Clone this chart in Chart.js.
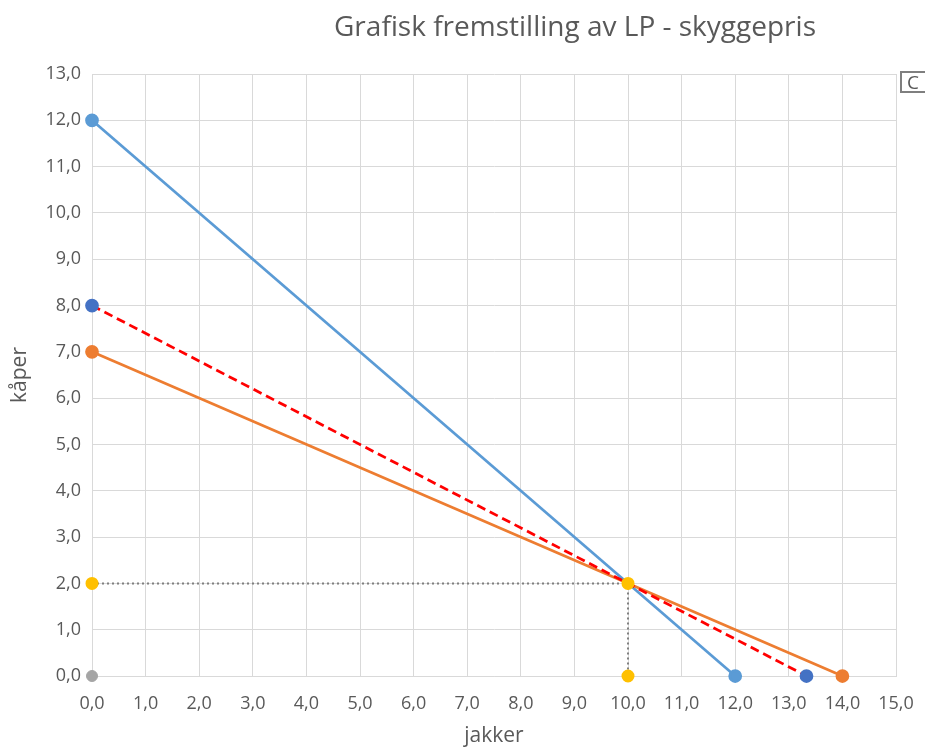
<!DOCTYPE html>
<html>
<head>
<meta charset="utf-8">
<script src="https://cdn.jsdelivr.net/npm/chart.js@4.4.1/dist/chart.umd.min.js"></script>
<style>
  html, body { margin: 0; padding: 0; background: #fff; overflow: hidden; }
  #wrap { position: relative; width: 925px; height: 749px; }
  #title {
    position: absolute; left: 575px; top: 6px; transform: translateX(-50%);
    font-family: "Open Sans", "Noto Sans", sans-serif; font-size: 28px; color: #595959;
    white-space: nowrap;
  }
  #legendBox {
    position: absolute; left: 900px; top: 71px; width: 80px; height: 18px;
    border: 2px solid #7f7f7f; background: #fff;
    font-family: "Open Sans", sans-serif; font-size: 19px; color: #595959;
    line-height: 18px; padding-left: 5px;
  }
</style>
</head>
<body>
<div id="wrap">
  <canvas id="c" width="925" height="749"></canvas>
  <div id="title">Grafisk fremstilling av LP - skyggepris</div>
  <div id="legendBox">C</div>
</div>
<script>
// Axis tick labels (Norwegian decimal comma)
const xTickLabels = ['0,0','1,0','2,0','3,0','4,0','5,0','6,0','7,0','8,0','9,0','10,0','11,0','12,0','13,0','14,0','15,0'];
const yTickLabels = ['0,0','1,0','2,0','3,0','4,0','5,0','6,0','7,0','8,0','9,0','10,0','11,0','12,0','13,0'];

// Constraint 1: x + y <= 12
const constraint1X = [0, 12];
const constraint1Y = [12, 0];
// Constraint 2: x + 2y <= 14
const constraint2X = [0, 14];
const constraint2Y = [7, 0];
// Objective / iso-profit line through the optimum
const objectiveX = [0, 13.33];
const objectiveY = [8, 0];
// Optimal point with guide lines to the axes
const optimumX = [0, 10, 10];
const optimumY = [2, 2, 0];
// Origin
const originX = [0];
const originY = [0];

const pts = (xs, ys) => xs.map((x, i) => ({ x: x, y: ys[i] }));

const tickFont = { family: '"Open Sans", "Noto Sans", sans-serif', size: 18 };
const titleFont = { family: '"Open Sans", "Noto Sans", sans-serif', size: 21 };

new Chart(document.getElementById('c'), {
  type: 'scatter',
  data: {
    datasets: [
      {
        label: 'Optimum',
        data: pts(optimumX, optimumY),
        showLine: true,
        borderColor: '#7f7f7f',
        borderWidth: 2,
        borderDash: [2, 3],
        pointBackgroundColor: '#FFC000',
        pointBorderColor: '#FFC000',
        pointRadius: 5.5,
        clip: false
      },
      {
        label: 'Origo',
        data: pts(originX, originY),
        pointBackgroundColor: '#A5A5A5',
        pointBorderColor: '#A5A5A5',
        pointRadius: 5.5,
        clip: false
      },
      {
        label: 'Skyggepris',
        data: pts(objectiveX, objectiveY),
        showLine: true,
        borderColor: '#FF0000',
        borderWidth: 2.75,
        borderDash: [9, 5],
        pointBackgroundColor: '#4472C4',
        pointBorderColor: '#4472C4',
        pointRadius: 5.5,
        clip: false
      },
      {
        label: 'Restriksjon 2',
        data: pts(constraint2X, constraint2Y),
        showLine: true,
        borderColor: '#ED7D31',
        borderWidth: 2.75,
        pointBackgroundColor: '#ED7D31',
        pointBorderColor: '#ED7D31',
        pointRadius: 5.5,
        clip: false
      },
      {
        label: 'Restriksjon 1',
        data: pts(constraint1X, constraint1Y),
        showLine: true,
        borderColor: '#5B9BD5',
        borderWidth: 2.75,
        pointBackgroundColor: '#5B9BD5',
        pointBorderColor: '#5B9BD5',
        pointRadius: 5.5,
        clip: false
      }
    ]
  },
  options: {
    responsive: false,
    animation: false,
    layout: { padding: { top: 74, right: 29, left: 0, bottom: 0 } },
    plugins: {
      legend: { display: false },
      tooltip: { enabled: false },
      title: { display: false }
    },
    scales: {
      x: {
        type: 'linear',
        min: 0, max: 15,
        afterFit: (s) => { s.height = 73; s.paddingRight = 0; s.paddingLeft = 0; },
        ticks: {
          stepSize: 1,
          color: '#595959',
          font: tickFont,
          padding: 17,
          maxRotation: 0,
          autoSkip: false,
          callback: (v) => xTickLabels[Math.round(v)]
        },
        grid: { color: '#D9D9D9', lineWidth: 1, drawTicks: false },
        border: { color: '#D9D9D9' },
        title: {
          display: true, text: 'jakker', color: '#595959', font: titleFont,
          padding: { top: 0, bottom: 0 }
        }
      },
      y: {
        type: 'linear',
        min: 0, max: 13,
        afterFit: (s) => { s.width = 92; s.paddingTop = 0; s.paddingBottom = 0; },
        ticks: {
          stepSize: 1,
          color: '#595959',
          font: tickFont,
          padding: 11,
          autoSkip: false,
          callback: (v) => yTickLabels[Math.round(v)]
        },
        grid: { color: '#D9D9D9', lineWidth: 1, drawTicks: false },
        border: { color: '#D9D9D9' },
        title: {
          display: true, text: 'kåper', color: '#595959', font: titleFont,
          padding: { top: 7, bottom: 0 }
        }
      }
    }
  }
});
</script>
</body>
</html>
